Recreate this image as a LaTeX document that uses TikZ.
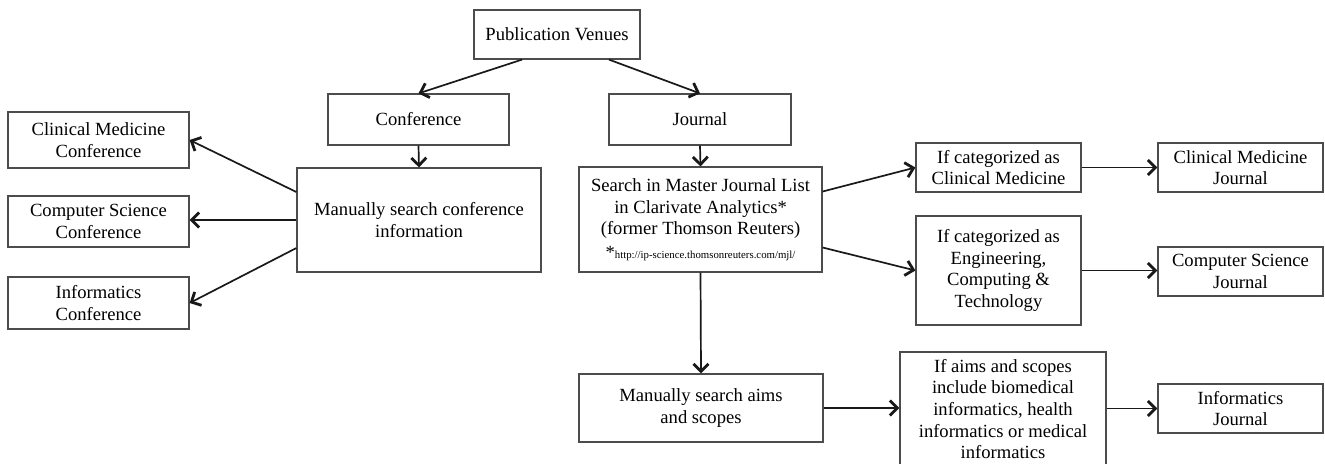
\documentclass[tikz,border=0pt]{standalone}
\usepackage{fontspec}
\setmainfont{Liberation Serif}
\usetikzlibrary{arrows.meta}

\begin{document}
\begin{tikzpicture}[x=0.5pt,y=-0.5pt,
  box/.style={draw=black!70,line width=0.6pt,align=center,inner sep=0pt,
    font=\fontsize{9.3}{10.8}\selectfont},
  arr/.style={draw=black!90,line width=0.85pt,
    -{Straight Barb[length=3.8pt,width=7.5pt,line width=1.4pt]}}]
\useasboundingbox (0,0) rectangle (1325,463);
\node[box,minimum width=83pt,minimum height=24.5pt] (pv) at (557,34.5) {Publication Venues};
\node[box,minimum width=90.5pt,minimum height=25.5pt] (conf) at (418.5,119.5) {Conference};
\node[box,minimum width=91pt,minimum height=25.5pt] (jour) at (700,119.5) {Journal};
\node[box,minimum width=122pt,minimum height=52pt] (mconf) at (419,220) {Manually search conference\\ information};
\node[box,minimum width=121.5pt,minimum height=52.5pt] (master) at (700.5,219.5) {Search in Master Journal List\\ in Clarivate Analytics*\\ (former Thomson Reuters)\\[1pt] *{\fontsize{5.4}{6}\selectfont http://ip-science.thomsonreuters.com/mjl/}};
\node[box,minimum width=90.5pt,minimum height=28pt] (cmc) at (98.5,140) {Clinical Medicine\\ Conference};
\node[box,minimum width=90.5pt,minimum height=25.5pt] (csc) at (98.5,221.5) {Computer Science\\ Conference};
\node[box,minimum width=90.5pt,minimum height=26pt] (ic) at (98.5,303) {Informatics\\ Conference};
\node[box,minimum width=82.5pt,minimum height=24.5pt] (ifcm) at (998.5,167.5) {If categorized as\\ Clinical Medicine};
\node[box,minimum width=82.5pt,minimum height=24.5pt] (cmj) at (1240.5,167.5) {Clinical Medicine\\ Journal};
\node[box,minimum width=82.5pt,minimum height=54.5pt] (ifeng) at (998.5,270.5) {If categorized as\\ Engineering,\\ Computing \&\\ Technology};
\node[box,minimum width=82.5pt,minimum height=24.5pt] (csj) at (1240.5,271.5) {Computer Science\\ Journal};
\node[box,minimum width=122pt,minimum height=34pt] (maims) at (701,408) {Manually search aims\\ and scopes};
\node[box,minimum width=103pt,minimum height=57pt] (ifaims) at (1003,409) {If aims and scopes\\ include biomedical\\ informatics, health\\ informatics or medical\\ informatics};
\node[box,minimum width=82.5pt,minimum height=24.5pt] (ij) at (1240.5,408.5) {Informatics\\ Journal};
\draw[arr] ([xshift=-17.5pt]pv.south) -- (conf.north);
\draw[arr] ([xshift=26pt]pv.south) -- (jour.north);
\draw[arr] (conf.south) -- (mconf.north);
\draw[arr] (jour.south) -- (master.north);
\draw[arr] ([yshift=14pt]mconf.west) -- (cmc.east);
\draw[arr] (mconf.west) -- (mconf.west -| csc.east);
\draw[arr] ([yshift=-14pt]mconf.west) -- (ic.east);
\draw[arr] ([yshift=14pt]master.east) -- (ifcm.west);
\draw[arr] ([yshift=-14pt]master.east) -- (ifeng.west);
\draw[arr] (master.south) -- (maims.north);
\draw[arr] (ifcm.east) -- (cmj.west);
\draw[arr] (ifeng.east) -- (ifeng.east -| csj.west);
\draw[arr] (maims.east) -- (maims.east -| ifaims.west);
\draw[arr] (ifaims.east |- ij.west) -- (ij.west);
\end{tikzpicture}
\end{document}
